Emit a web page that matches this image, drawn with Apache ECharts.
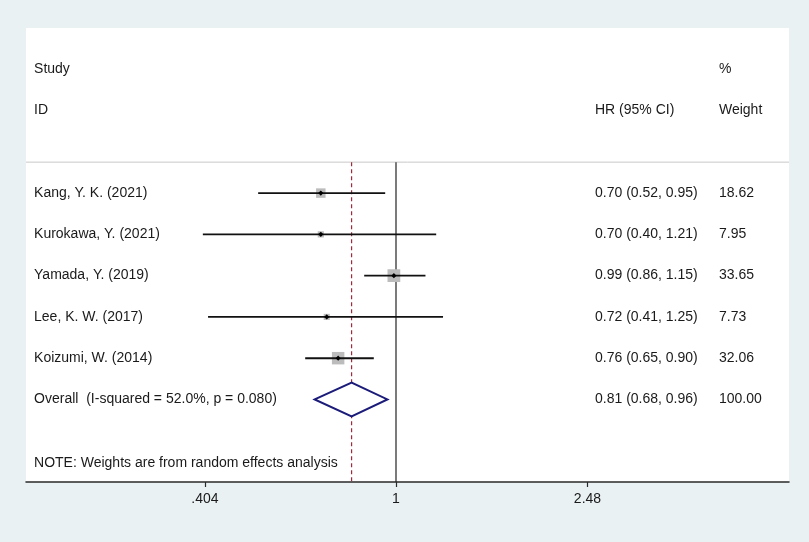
<!DOCTYPE html>
<html>
<head>
<meta charset="utf-8">
<script src="https://cdn.jsdelivr.net/npm/echarts@6/dist/echarts.min.js"></script>
<style>
  html, body { margin: 0; padding: 0; background: #fff; }
  #chart { width: 809px; height: 542px; }
</style>
</head>
<body>
<div id="chart"></div>
<script>
var studies = ["Kang, Y. K. (2021)", "Kurokawa, Y. (2021)", "Yamada, Y. (2019)", "Lee, K. W. (2017)", "Koizumi, W. (2014)"];
var hr = [0.70, 0.70, 0.99, 0.72, 0.76];
var lower = [0.52, 0.40, 0.86, 0.41, 0.65];
var upper = [0.95, 1.21, 1.15, 1.25, 0.90];
var weights = [18.62, 7.95, 33.65, 7.73, 32.06];

var overallLabel = "Overall  (I-squared = 52.0%, p = 0.080)";
var overallHR = 0.81;
var overallLower = 0.68;
var overallUpper = 0.96;
var overallWeight = 100.00;

var tickValues = [0.404, 1, 2.48];
var tickLabels = [".404", "1", "2.48"];

var noteText = "NOTE: Weights are from random effects analysis";

// columns in log(HR) units, rows counted from first study
var colStudy = -1.717;
var colHR = 0.944;
var colWeight = 1.532;
var FONT = '14px "Liberation Sans", Arial, sans-serif';

var chart = echarts.init(document.getElementById("chart"));

function fmt(v) { return v.toFixed(2); }

var studyRows = [];
for (var i = 0; i < studies.length; i++) {
  studyRows.push([i + 1, Math.log(lower[i]), Math.log(upper[i]), Math.log(hr[i]), weights[i]]);
}
var overallRow = studies.length + 1;

var texts = [
  [colStudy, -2, "Study"],
  [colStudy, -1, "ID"],
  [colHR, -1, "HR (95% CI)"],
  [colWeight, -2, "%"],
  [colWeight, -1, "Weight"]
];
for (var i = 0; i < studies.length; i++) {
  texts.push([colStudy, i + 1, studies[i]]);
  texts.push([colHR, i + 1, fmt(hr[i]) + " (" + fmt(lower[i]) + ", " + fmt(upper[i]) + ")"]);
  texts.push([colWeight, i + 1, fmt(weights[i])]);
}
texts.push([colStudy, overallRow, overallLabel]);
texts.push([colHR, overallRow, fmt(overallHR) + " (" + fmt(overallLower) + ", " + fmt(overallUpper) + ")"]);
texts.push([colWeight, overallRow, fmt(overallWeight)]);
texts.push([colStudy, 7.54, noteText]);

var logTicks = tickValues.map(function (v) { return Math.log(v); });

var xMin = -1.7552, xMax = 1.8643;
var refLines = [
  [xMin, xMax, 0.25, 0.25, "#c8c8c8", "solid", 1],
  [0, 0, 0.25, 8, "#222", "solid", 1.2],
  [Math.log(overallHR), Math.log(overallHR), 0.25, 8, "#a3283a", "dashed", 1.2]
];

chart.setOption({
  backgroundColor: "#e9f1f3",
  animation: false,
  grid: {
    left: 26,
    right: 20,
    top: 28,
    bottom: 60,
    show: true,
    backgroundColor: "#fff",
    borderWidth: 0
  },
  xAxis: {
    type: "value",
    min: xMin,
    max: xMax,
    splitLine: { show: false },
    axisLine: { onZero: false, lineStyle: { color: "#2a2a2a", width: 1.5 } },
    axisTick: {
      customValues: logTicks,
      length: 5,
      lineStyle: { color: "#2a2a2a", width: 1.2 }
    },
    axisLabel: {
      customValues: logTicks,
      margin: 10,
      fontSize: 14,
      fontFamily: '"Liberation Sans", Arial, sans-serif',
      color: "#1a1a1a",
      formatter: function (v) {
        var best = 0;
        for (var k = 1; k < logTicks.length; k++) {
          if (Math.abs(logTicks[k] - v) < Math.abs(logTicks[best] - v)) best = k;
        }
        return tickLabels[best];
      }
    }
  },
  yAxis: {
    type: "value",
    min: -3,
    max: 8,
    inverse: true,
    show: false
  },
  series: [
    {
      type: "custom",
      silent: true,
      data: refLines,
      encode: { x: [0, 1], y: [2, 3] },
      renderItem: function (params, api) {
        var r = refLines[params.dataIndex];
        var a = api.coord([r[0], r[2]]);
        var b = api.coord([r[1], r[3]]);
        return {
          type: "line",
          shape: { x1: a[0], y1: a[1], x2: b[0], y2: b[1] },
          style: {
            stroke: r[4],
            lineWidth: r[6],
            lineDash: r[5] == "dashed" ? [4, 3] : null
          }
        };
      }
    },
    {
      type: "custom",
      silent: true,
      data: studyRows,
      encode: { x: [1, 2, 3], y: 0 },
      renderItem: function (params, api) {
        var row = api.value(0);
        var p1 = api.coord([api.value(1), row]);
        var p2 = api.coord([api.value(2), row]);
        var c = api.coord([api.value(3), row]);
        var s = Math.sqrt(api.value(4)) * 2.2;
        var d = 2.6;
        return {
          type: "group",
          children: [
            {
              type: "rect",
              shape: { x: c[0] - s / 2, y: c[1] - s / 2, width: s, height: s },
              style: { fill: "#bcbcbc" }
            },
            {
              type: "line",
              shape: { x1: p1[0], y1: p1[1], x2: p2[0], y2: p2[1] },
              style: { stroke: "#111", lineWidth: 1.9 }
            },
            {
              type: "polygon",
              shape: { points: [[c[0] - d, c[1]], [c[0], c[1] - d], [c[0] + d, c[1]], [c[0], c[1] + d]] },
              style: { fill: "#000" }
            }
          ]
        };
      }
    },
    {
      type: "custom",
      silent: true,
      data: [[overallRow, Math.log(overallLower), Math.log(overallUpper), Math.log(overallHR)]],
      encode: { x: [1, 2, 3], y: 0 },
      renderItem: function (params, api) {
        var row = api.value(0);
        var l = api.coord([api.value(1), row]);
        var r = api.coord([api.value(2), row]);
        var t = api.coord([api.value(3), row - 0.41]);
        var b = api.coord([api.value(3), row + 0.41]);
        return {
          type: "polygon",
          shape: { points: [l, t, r, b] },
          style: { fill: "#fff", stroke: "#1b1b7a", lineWidth: 2 }
        };
      }
    },
    {
      type: "custom",
      silent: true,
      data: texts.map(function (t) { return [t[0], t[1]]; }),
      encode: { x: 0, y: 1 },
      renderItem: function (params, api) {
        var t = texts[params.dataIndex];
        var p = api.coord([t[0], t[1]]);
        return {
          type: "text",
          x: p[0],
          y: p[1],
          style: {
            text: t[2],
            font: FONT,
            fill: "#1a1a1a",
            align: "left",
            verticalAlign: "middle"
          }
        };
      }
    }
  ]
});
</script>
</body>
</html>
